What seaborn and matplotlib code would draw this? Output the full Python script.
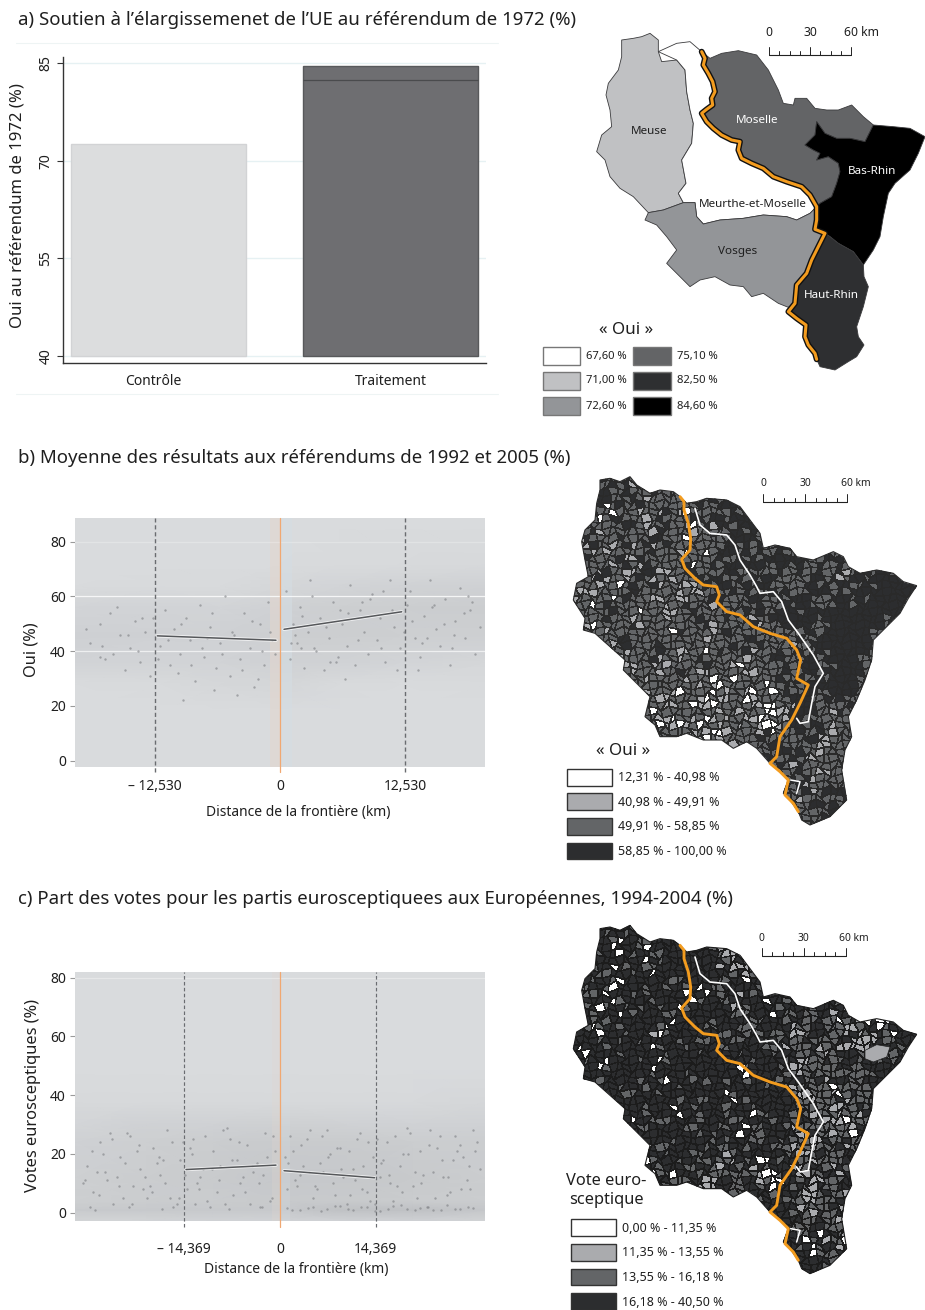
import numpy as np
import pandas as pd
import seaborn as sns
import matplotlib
matplotlib.use("Agg")
import matplotlib.pyplot as plt
from matplotlib.patches import Polygon, Rectangle
from matplotlib.colors import ListedColormap, LinearSegmentedColormap

W, H = 925, 1310
FONT = ["Noto Sans", "DejaVu Sans"]

# ---------- panel a
bar_categories = ["Contrôle", "Traitement"]
bar_values = [72.6, 84.6]
bar_inner_line = 82.5
bar_ticks = [40, 55, 70, 85]
bar_colors = ["#dcddde", "#6d6e71"]

# ---------- panel b
b_cut = 12.53
b_left_x, b_left_y = [-12.3, -0.4], [45.6, 44.0]
b_right_x, b_right_y = [0.4, 12.2], [48.0, 54.4]
b_ticks_y = [0, 20, 40, 60, 80]
b_grid_x = [-20.5, -12, -6, 0, 6, 12, 20.5]
b_grid_y = [-2.2, 18, 28, 36, 46, 56, 64, 72, 88.5]
b_density = [[.0, .0, .0, .0, .0, .0, .0],
             [.0, .0, .0, .0, .0, .0, .0],
             [.0, .02, .08, .1, .03, .01, .02],
             [.16, .16, .16, .2, .18, .14, .08],
             [.22, .2, .2, .26, .28, .26, .25],
             [.14, .16, .14, .2, .25, .28, .3],
             [.01, .03, .03, .08, .14, .18, .2],
             [.0, .0, .0, .01, .02, .03, .05],
             [.0, .0, .0, .0, .0, .0, .0]]
b_pts_x = [-19, -18, -17.5, -17, -16, -15.5, -15, -14.5, -14, -13.5, -13, -12, -11.5, -11, -10.6, -10, -9.4, -9, -8.5,
           -8, -7.6, -7, -6.4, -6, -5.5, -5, -4.6, -4, -3.6, -3, -2.6, -2, -1.6, -1.2, -.8, -.5, .6, 1, 1.3, 1.7, 2, 2.4,
           2.8, 3.2, 3.6, 4, 4.4, 4.9, 5.3, 5.8, 6.2, 6.7, 7, 7.5, 8, 8.4, 8.8, 9.2, 9.7, 10, 10.5, 11, 11.4, 12, 12.7,
           13, 13.5, 14, 14.4, 15, 15.6, 16, 16.5, 17, 17.5, 18, 18.5, 19, 19.5, 20, -18, -16.3, -12.7, -10.2, -7.3,
           -4.3, -2.2, 1.5, 3, 5, 6.5, 8.2, 10.3, 13.8, 15.2, 17.2, 18.8, 14.7, 11.7, 6, 2.1, -6.6, -9.7, -14.2,
           -19.4, -17.8, -16.7, -15.2, -13.8, -12.2, -11.2, -9.9, -8.9, -7.8, -6.8, -5.8, -4.8, -3.8, -2.8, -1.8, -1, 1.1,
           2.2, 3.4, 4.6, 5.6, 6.8, 7.8, 9, 10.1, 11.2, 12.4, 13.2, 14.2, 15.4, 16.4, 17.4, 18.4, 19.2]
b_pts_y = [43, 50, 37, 54, 46, 33, 41, 51, 36, 47, 31, 42, 55, 35, 48, 39, 52, 44, 29, 57, 38, 49, 34, 43, 60, 31, 46, 37,
           54, 41, 27, 50, 35, 58, 44, 39, 62, 37, 50, 43, 56, 34, 47, 60, 40, 52, 33, 45, 58, 38, 50, 42, 64, 35, 55,
           47, 39, 61, 44, 52, 36, 66, 49, 41, 57, 62, 45, 38, 53, 66, 48, 42, 59, 35, 51, 63, 45, 55, 39, 49,
           38, 56, 52, 32, 45, 24, 30, 46, 66, 36, 30, 58, 62, 33, 56, 41, 60, 45, 33, 55, 41, 26, 22, 40,
           48, 42, 39, 46, 52, 37, 44, 50, 35, 41, 54, 39, 47, 33, 51, 40, 47, 43, 53, 41, 49, 36, 54, 44, 59, 41, 55, 47,
           51, 43, 57, 50, 46, 54, 58]

# ---------- panel c
c_cut = 14.369
c_left_x, c_left_y = [-14.1, -0.6], [14.7, 16.2]
c_right_x, c_right_y = [0.6, 14.2], [14.3, 11.9]
c_ticks_y = [0, 20, 40, 60, 80]
c_grid_x = [-30.7, -20, -10, 0, 10, 20, 30.7]
c_grid_y = [-2.7, 1, 4, 12, 24, 30, 38, 50, 82]
c_density = [[.15, .15, .18, .18, .2, .2, .15],
             [.35, .38, .38, .38, .55, .55, .42],
             [.26, .3, .32, .36, .36, .32, .3],
             [.24, .3, .34, .4, .4, .36, .3],
             [.2, .26, .3, .34, .34, .3, .3],
             [.12, .2, .2, .24, .2, .18, .2],
             [.05, .04, .05, .05, .04, .05, .08],
             [.0, .0, .0, .0, .0, .0, .0],
             [.0, .0, .0, .0, .0, .0, .0]]
c_pts_x = [-29, -28, -27, -26, -25, -24, -23, -22, -21, -20, -19, -18, -17, -16, -15, -14, -13, -12, -11, -10, -9, -8, -7,
           -6, -5, -4, -3, -2, -1, 1, 2, 3, 4, 5, 6, 7, 8, 9, 10, 11, 12, 13, 14, 15, 16, 17, 18, 19, 20, 21, 22, 23, 24, 25,
           26, 27, 28, 29, 30, -28.5, -26.5, -24.5, -22.5, -20.5, -18.5, -16.5, -14.5, -12.5, -10.5, -8.5, -6.5, -4.5, -2.5,
           -.7, 1.5, 3.5, 5.5, 7.5, 9.5, 11.5, 13.5, 15.5, 17.5, 19.5, 21.5, 23.5, 25.5, 27.5, 29.5, -29.5, -27.5, -25.5,
           -23.5, -21.5, -19.5, -17.5, -15.5, -13.5, -11.5, -9.5, -7.5, -5.5, -3.5, -1.5, .8, 2.5, 4.5, 6.5, 8.5, 10.5,
           12.5, 14.5, 16.5, 18.5, 20.5, 22.5, 24.5, 26.5, 28.5, 1, 3, 5, 7, 9, 11, 13, 15, 17, 19, 21, 23, 25, 27, 29,
           1.8, 4.2, 6.2, 8.2, 10.2, 12.2, 14.2, 16.2, 18.2, 20.2, 22.2, 24.2, 26.2, 28.2, -27.7, -22.7, -17.7, -12.7, -7.7, -2.7,
           -29.2, -28.2, -27.2, -26.2, -25.2, -24.2, -23.2, -22.2, -21.2, -20.2, -19.2, -18.2, -17.2, -16.2, -15.2, -14.2,
           -13.2, -12.2, -11.2, -10.2, -9.2, -8.2, -7.2, -6.2, -5.2, -4.2, -3.2, -2.2, -1.2, 1.2, 2.2, 3.2, 4.3, 5.2, 6.3,
           7.2, 8.3, 9.2, 10.3, 11.2, 12.3, 13.2, 14.3, 15.2, 16.3, 17.2, 18.3, 19.2, 20.3, 21.2, 22.3, 23.2, 24.3, 25.2,
           26.3, 27.2, 28.3, 29.2]
c_pts_y = [16, 7, 24, 11, 3, 19, 27, 9, 15, 5, 22, 13, 28, 2, 18, 8, 25, 12, 4, 21, 16, 29, 6, 10, 23, 14, 2, 19, 26, 8, 21,
           13, 25, 5, 17, 28, 10, 22, 3, 15, 27, 7, 19, 12, 24, 4, 16, 29, 9, 21, 2, 14, 26, 6, 18, 23, 11, 28, 15,
           2, 20, 12, 26, 8, 17, 5, 24, 10, 2, 28, 18, 3, 13, 21, 26, 16, 8, 20, 12, 25, 4, 18, 9, 27, 13, 22, 7, 19, 24,
           10, 14, 27, 5, 21, 9, 18, 3, 22, 15, 7, 25, 12, 17, 4, 19, 9, 28, 14, 22, 6, 16, 25, 10, 20, 5, 28, 12, 21, 8,
           1.5, .8, 2, 1.2, 2.4, 1, 1.8, .6, 2.2, 1.3, 1.7, .9, 2.5, 1.1, 1.6, .9, 1.6, .7, 2.2, 1.2, 2, .5, 1.4, 2.6, 1,
           1.9, .8, 1.4, 2.1, 1, 2, 1.3, 3, 1.2, 1.8,
           11, 21, 6, 14, 25, 9, 17, 3, 23, 12, 7, 19, 10, 24, 5, 13, 20, 8, 26, 15, 11, 3, 18, 24, 7, 16, 10, 27, 5, 17,
           11, 23, 14, 9, 26, 19, 6, 15, 21, 11, 8, 24, 3, 17, 13, 26, 7, 20, 14, 10, 23, 5, 18, 12, 26, 8, 16, 21]

# ---------- map a: département outlines (map units)
border_a = [(515, 95), (525, 115), (520, 135), (535, 160), (548, 185), (555, 215), (545, 235), (548, 255), (530, 268),
            (515, 280), (530, 305), (550, 325), (575, 345), (605, 360), (630, 365), (625, 390), (635, 415), (665, 430),
            (700, 445), (730, 470), (770, 485), (815, 500), (840, 525), (860, 560), (860, 600), (855, 628), (885, 640),
            (865, 680), (845, 720), (830, 760), (800, 795), (795, 850), (775, 875), (800, 895), (828, 915), (825, 950),
            (835, 975), (855, 1000), (860, 1018)]
meuse = [(275, 60), (310, 55), (335, 50), (360, 40), (385, 60), (385, 95), (395, 125), (440, 120), (465, 150), (470, 215),
         (480, 270), (490, 310), (485, 370), (455, 420), (468, 490), (445, 520), (460, 548), (400, 570), (355, 578),
         (310, 530), (270, 505), (240, 470), (225, 420), (200, 395), (215, 345), (245, 320), (240, 270), (228, 225),
         (235, 190), (265, 150), (275, 110)]
meurthe_west = [(460, 548), (495, 548), (500, 590), (520, 612), (570, 600), (640, 595), (700, 585), (770, 590), (800, 600),
                (840, 580)]
vosges_south = [(775, 862), (745, 850), (700, 820), (665, 830), (640, 800), (600, 795), (555, 770), (510, 780), (480, 800),
                (450, 770), (410, 730), (440, 690), (410, 650), (380, 615), (345, 600)]
moselle_north = [(540, 115), (575, 100), (625, 92), (680, 105), (715, 150), (745, 210), (760, 250), (790, 255), (795, 235),
                 (830, 235), (855, 265), (890, 270), (925, 270), (965, 255), (1000, 290), (1030, 315)]
bas_rhin_west = [(1005, 365), (960, 355), (920, 355), (885, 340), (860, 305), (855, 345), (825, 375), (850, 390), (870, 400),
                 (860, 420), (895, 410), (925, 430), (930, 455), (920, 490), (905, 530), (870, 550)]
bas_rhin_east = [(1090, 320), (1140, 325), (1185, 350), (1165, 400), (1140, 450), (1095, 490), (1075, 520), (1060, 590),
                 (1050, 650), (1030, 690), (1000, 735)]
rhin_split = [(970, 695), (925, 670), (900, 650)]
haut_rhin_east = [(1002, 770), (1015, 800), (1000, 860), (980, 920), (985, 950), (1002, 975), (980, 1010), (955, 1025),
                  (915, 1050), (870, 1040)]
map_a_labels = ["Meuse", "Moselle", "Bas-Rhin", "Meurthe-et-Moselle", "Vosges", "Haut-Rhin"]
legend_a_labels = ["67,60 %", "71,00 %", "72,60 %", "75,10 %", "82,50 %", "84,60 %"]
legend_a_colors = ["#ffffff", "#c0c1c3", "#939598", "#636466", "#2e2f31", "#000000"]

# ---------- maps b and c: shared outline, estimated commune classes
outline = [(180, 30), (210, 25), (240, 35), (270, 20), (290, 45), (330, 70), (360, 60), (400, 65), (420, 80), (440, 100),
           (470, 95), (500, 85), (560, 90), (600, 110), (630, 150), (660, 190), (670, 235), (705, 225), (750, 235), (770, 260),
           (820, 270), (880, 245), (910, 260), (925, 290), (960, 310), (1010, 300), (1060, 310), (1090, 335), (1130, 347),
           (1105, 385), (1080, 430), (1030, 480), (1000, 510), (995, 570), (975, 630), (950, 690), (925, 740), (935, 800),
           (915, 840), (905, 900), (920, 990), (870, 1040), (810, 1065), (785, 1050), (775, 1025), (750, 990), (730, 970),
           (745, 930), (720, 905), (690, 880), (650, 835), (620, 815), (580, 835), (545, 810), (490, 810), (440, 790),
           (410, 800), (360, 800), (345, 765), (315, 740), (325, 700), (330, 680), (290, 640), (250, 600), (255, 570),
           (210, 530), (165, 490), (130, 480), (135, 445), (100, 390), (110, 340), (145, 320), (135, 270), (125, 215),
           (135, 180), (165, 150), (170, 100), (180, 60)]
border_bc = [(420, 80), (432, 95), (432, 120), (445, 160), (452, 205), (450, 240), (425, 268), (435, 295), (465, 325),
             (490, 345), (530, 350), (538, 375), (530, 395), (560, 425), (600, 435), (640, 470), (690, 490), (740, 505),
             (770, 540), (782, 570), (770, 625), (805, 645), (780, 700), (755, 750), (720, 800), (710, 860), (690, 880),
             (720, 905), (745, 930), (735, 975), (760, 1000), (775, 1025)]
white_line = [(465, 115), (480, 165), (510, 190), (560, 195), (585, 225), (600, 270), (630, 315), (650, 350), (660, 370),
              (700, 365), (725, 395), (745, 450), (775, 490), (820, 555), (850, 610), (825, 650), (815, 700), (805, 755),
              (780, 760), (770, 745)]
white_line2 = [(752, 930), (780, 935), (770, 970)]
lake_c = [(975, 395), (1010, 378), (1050, 385), (1040, 415), (1000, 430), (975, 420)]

classes_b = [
 "MMMMDMDMMDMMMMMMMMMMMMMMMMMMMMMMMMMMMMMMMMMM",
 "MMMDMMDLMDMMMMMMMMDDMMMMMMMMMMMMMMMMMMMMMMMM",
 "MMMMDMLMDMMDMLMMMMDMDDDMMMMMMMMMMMMMMMMMMMMM",
 "MMMDMDMMDMLMMMMMMDDDDMDDDMDMMMMMMMMMMMMMMMMM",
 "MMMMWDMMLMMDMLMDMMMDDDDMDDDDDMMMMMMMMMMMMMMM",
 "MMDMMMDMMMLDMMWMDMDMMDDMDDMDDDMMMMMMMMMMMMMM",
 "MMMLMMMDMLMMMMLMMLMDDMDMMDMDMDMMMMMMMMMMMMMM",
 "MMDMMMLMWMDMMMMMDMMMDMDMMDMDMDMDMMDMMMMMMMMM",
 "MLMMLMDMMLMDMMMWMLMDMDMDMMDMDMDMMMMDMMMMMMMM",
 "LMDMMMMLMDMMMLMMWMDDMDMDMDMDMDMMDMDMMMMMMMMM",
 "MMLMLMDMLMMMMMWMMMMDMDMDMDDMDMDMMDMDMMDMMMMM",
 "MMMLMMLMMDMLMMDMMDMDDMDMMDMMDMDMMDMMDMDMMMDM",
 "MLMMDMMLMDLMMLMMDMMDMDMDMDMMDMDDMMLDMMDDDDMM",
 "MMMLMLMMMDMMMLLMDMDMMDMDMDMDMDMDMDMMDDDDDDDM",
 "MLMMMWMDMMLMMLLMMMMDMDMMDMDMMDMDMDDMDMDDDDDD",
 "LMLMMMMDMMMLMMMLMMDMMMMDMMDMDMDMMDMDDDDDDDDD",
 "MMWMDMMMWMMLMMDMMLMMMDMDMMDMMDMDMDDDDDDDDDDM",
 "MMMLMMDMMMMLLMMMMMLMMDMMMDMDMDDMDDDDDDDDDMMM",
 "MLMMMDMMLMMMLMMMDMMMDMMLMMDMDMDMDDDDDDDDMMMM",
 "MMWMMMMDMMMMMDMMMLMMMMDMMMMDMDMDDDDDDDMMMMMM",
 "MMMMLMDMMMMMWMMMMLMDMMMDMMMMMDMDDDDDDMMMMMMM",
 "MMMMMMLMMMDMMLMMWMDMMDMMMMMLDMDMDDDDDMMMMMMM",
 "MMMMMMDMMMDMMMLMLMMMMMLMMDMMDMDMDDDDDMMMMMMM",
 "MMMMMMLMMLMLMMMMDMMLMMWMMMDMMDDMDDDDMMMMMMMM",
 "MMMMMMMLMMMMMDMMLMMMWLMMMMDMMDMDMDDDMMMMMMMM",
 "MMMMMMLLMMLMMMMLMMWMMMLMMMDMMDMDDDDDMMMMMMMM",
 "MMMMMMMMLMMMMWMLMLMMMLMMWMDMMDDMDDDMMMMMMMMM",
 "MMMMMMMMMLMMLMMMMWMLMMWLMMLMDDMDDMDMMMMMMMMM",
 "MMMMMMMMMMMLMMWMLMMMLMMLWMMMDDDMDMDMMMMMMMMM",
 "MMMMMMMMMWMMLMMLMWLMMMLMWMLLDDMMMDMMMMMMMMMM",
 "MMMMMMMMMMMLMWMMMMLMLMMLWLMDDDMMLMMMMMMMMMMM",
 "MMMMMMMMMMWMLMLWLMWMLMMLWLMDDMDMLMMMMMMMMMMM",
 "MMMMMMMMMMMWMWMMLWMLMLMMDMMMDMDMLMMMMMMMMMMM",
 "MMMMMMMMMMMMMWWLLMMLMMDMDMMDMMDLMMMMMMMMMMMM",
 "MMMMMMMMMMMMMMMMMMMMMLMMMDDMDMLMMMMMMMMMMMMM",
 "MMMMMMMMMMMMMMMMMMMLLWMDMDMMDMLMMMMMMMMMMMMM",
 "MMMMMMMMMMMMMMMMMMMMMMMDMDMLDMMLMMMMMMMMMMMM",
 "MMMMMMMMMMMMMMMMMMMMMMMMMMDMDMLDMMMMMMMMMMMM",
 "MMMMMMMMMMMMMMMMMMMMMMMMMMMMDMDMLMDMMMMMMMMM",
 "MMMMMMMMMMMMMMMMMMMMMMMMMMMMMLMDMDMDMMMMMMMM",
 "MMMMMMMMMMMMMMMMMMMMMMMMMMMMMDMMDMDDMMMMMMMM",
 "MMMMMMMMMMMMMMMMMMMMMMMMMMMMMMDMDMDMMMMMMMMM",
 "MMMMMMMMMMMMMMMMMMMMMMMMMMMMMMMMDMDMMMMMMMMM",
 "MMMMMMMMMMMMMMMMMMMMMMMMMMMMMMMMDDMMMMMMMMMM",
]
classes_c = [
 "DDDDDDMDDMDDDDDDDDDDDDDDDDDDDDDDDDDDDDDDDDDD",
 "DDDDMDDDMDDDDDDDDDDMDDDDDDDDDDDDDDDDDDDDDDDD",
 "DDDDDWMDDMDDDMDDDDWLLMLDDDDDDDDDDDDDDDDDDDDD",
 "DDDMDDDMDMWDMDDDDDMLLLLLLDDDDDDDDDDDDDDDDDDD",
 "DDDDDWDMDDMDDDDDDDDLLMLLMWLDDDDDDDDDDDDDDDDD",
 "DDDMDDDDDWMDDDDDDDDMDLMMLMLDDDDDDDDDDDDDDDDD",
 "DDDDMDDMDDDDDMDDDDMDDWMDMLDMDDDDDDDDDDDDDDDD",
 "DDMDDWDDMDDDMDDDDDMMDMDDMWMDDMDDDDDDDDDDDDDD",
 "DMDDDMDDDDMDDDDMWDMDDDMDDMDDMDDMDDDDDDDDDDDD",
 "DDMDWDDMDMDDDDWDDDMDLDMDDDMDMDMDDMDDDDDDDDDD",
 "DDDDDMDDDDDMDDDMDDDMDMDDWDMDDMDDDDMLDMDDDDDD",
 "DDMDDWDMDDDDMDDDDDDDMDDMDDMMDMDMLWDDWMWDDDDD",
 "DDMDMDDDMDDMWDDDDMDDDDMDDDMDMMDDMDMLWDMWDDMD",
 "DDMWDDMDDLDMDDDDDDMDDMDMMDDMLDMDDMDLMDDWMDMD",
 "DDDMDDDDMDWDDMDDMDDMDDDDDMDLMMDMMDLLLLDMDDDD",
 "DWDDDMDDDDDMDDDMDDDDMDDDMMDMMDMLMDDLLLDMDMDD",
 "DMDDDMDDMDDMDDDMDDDDMDDDDDMDLMMDMMDMDDMMDDDD",
 "DDDMWDDDDDWDDMDDMDWDDDMDDDDDMLMDMLDMWDMDDDDD",
 "DDDDDMDDDMDDDDDDDMDDDWDDDDMDLDMMDMMDMMDDDDDD",
 "DDDMDDDDMDDWDDMDMDDDDMDDDDDMDMMLMDMMDMDDDDDD",
 "DDDDDDMDDDMDDDDDDDDMDDDDDMDDLMDMDWDMMDDDDDDD",
 "DDDDDDDMDDMDDMDDMDDWDMDDDDDMMLMMLDMMMDWDDDDD",
 "DDDDDDMDDDDMDDDMDDMDDDDMDDMDDMMLMMLMDMDDDDDD",
 "DDDDDDDMDDMDDWDDDDDDMDDMDDDWDLMMLLMMDMDDDDDD",
 "DDDDDDDDDMDMDDDMDDDMDDWDMDDMDMMLMLMLMDLDDDDD",
 "DDDDDDDWDDMDDDDMDDDDMDDMDDDMLDMMLMWMDMDDDDDD",
 "DDDDDDDDMDDDDDDMDMDDWDMMDDDDMLMDLMMDLDDDDDDD",
 "DDDDDDDDDDDDMDDDDMDMDDMDDMDMLMLDMWDMLDDDDDDD",
 "DDDDDDDDDDWMDDMDDMDMMDDDDDMDLMMMLMDLMDDDDDDD",
 "DDDDDDDDDMDDDMDMMDMLDMDWDDDDMLDMMMDLDDDDDDDD",
 "DDDDDDDDDWDMDDDMDDMMDMDLWMDDLMMDMLDMDDDDDDDD",
 "DDDDDDDDDDMDWMDMLMDMMDMLWMDDMLMMDMDLDDDDDDDD",
 "DDDDDDDDDDDWMDMDMLMDMMDMMWDDMDLMMLDMDDDDDDDD",
 "DDDDDDDDDDDDDDMMLMLMDMMDMDDMMLMDMMLDDDDDDDDD",
 "DDDDDDDDDDDDDDDDDDDDMLDMDDMDMLMMMDLDDDDDDDDD",
 "DDDDDDDDDDDDDDDDDDDDLLDMDDDMDLMMMDLDDDDDDDDD",
 "DDDDDDDDDDDDDDDDDDDDDDDDMDDMDMDMMLDDDDDDDDDD",
 "DDDDDDDDDDDDDDDDDDDDDDDDDDDDMMDWMDMLDDDDDDDD",
 "DDDDDDDDDDDDDDDDDDDDDDDDDDDDMDMDLMLMDDDDDDDD",
 "DDDDDDDDDDDDDDDDDDDDDDDDDDDDDMWLDMLMDDDDDDDD",
 "DDDDDDDDDDDDDDDDDDDDDDDDDDDDDWDMMDWDDDDDDDDD",
 "DDDDDDDDDDDDDDDDDDDDDDDDDDDDDDMDMDMDDDDDDDDD",
 "DDDDDDDDDDDDDDDDDDDDDDDDDDDDDDDDMDMDDDDDDDDD",
 "DDDDDDDDDDDDDDDDDDDDDDDDDDDDDDDDDDDDDDDDDDDD",
]
legend_b_labels = ["12,31 % - 40,98 %", "40,98 % - 49,91 %", "49,91 % - 58,85 %", "58,85 % - 100,00 %"]
legend_c_labels = ["0,00 % - 11,35 %", "11,35 % - 13,55 %", "13,55 % - 16,18 %", "16,18 % - 40,50 %"]
class_colors = ["#ffffff", "#aaabae", "#636567", "#2c2d2f"]

titles = ["a) Soutien à l’élargissemenet de l’UE au référendum de 1972 (%)",
          "b) Moyenne des résultats aux référendums de 1992 et 2005 (%)",
          "c) Part des votes pour les partis eurosceptiquees aux Européennes, 1994-2004 (%)"]

# ---------- drawing
sns.set_theme(style="white")
plt.rcParams["font.family"] = FONT
plt.rcParams["axes.unicode_minus"] = False
TXT = "#1f1f1f"
fig = plt.figure(figsize=(W / 100, H / 100), dpi=100)


def px_axes(x0, y0, x1, y1, **kw):
    return fig.add_axes([x0 / W, 1 - y1 / H, (x1 - x0) / W, (y1 - y0) / H], **kw)


for t, y in zip(titles, [20, 458, 899]):
    fig.text(18 / W, 1 - y / H, t, fontsize=13.4, color=TXT, va="center", ha="left")

# panel a
ax = px_axes(63.3, 56.7, 486, 363.3)
df = pd.DataFrame({"groupe": bar_categories, "oui": bar_values})
sns.barplot(data=df, x="groupe", y="oui", hue="groupe", palette=bar_colors, width=0.753, ax=ax, legend=False,
            dodge=False, zorder=3)
edges = ["#d2d3d5", "#58595b"]
for p, v, e in zip(ax.patches, bar_values, edges):
    p.set_y(bar_ticks[0])
    p.set_height(v - bar_ticks[0])
    p.set_edgecolor(e)
    p.set_linewidth(1)
ax.set_xlim(-0.409, 1.41)
ax.set_ylim(38.83, 86.02)
ax.set_yticks(bar_ticks)
ax.set_yticklabels(bar_ticks, rotation=90, va="center", fontsize=10, color=TXT)
ax.set_xticks([-0.022, 1])
ax.set_xticklabels(bar_categories, fontsize=10, color=TXT)
ax.tick_params(axis="y", length=4, width=0.8, color="#333333", left=True, pad=3)
ax.tick_params(axis="x", length=0, pad=8)
ax.grid(axis="y", color="#e6f1f3", lw=1)
ax.set_axisbelow(True)
sns.despine(ax=ax)
for s in ["left", "bottom"]:
    ax.spines[s].set_color("#333333")
    ax.spines[s].set_linewidth(1)
ax.plot([0.624, 1.376], [bar_inner_line] * 2, color="#4a4b4d", lw=0.9, zorder=4, solid_capstyle="butt")
ax.set_xlabel("")
ax.set_ylabel("Oui au référendum de 1972 (%)", fontsize=12, color=TXT, va="center")
ax.yaxis.set_label_coords(-46 / 422.7, 0.516)
for y in [43, 394]:
    fig.add_artist(plt.Line2D([16 / W, 498 / W], [1 - y / H] * 2, color="#eef4f4", lw=0.8))


def rd_panel(rect, xlim, ylim, cut, left, right, yticks, grid_x, grid_y, dens, px, py, cut_bottom, tick_labels, xlabel,
             xlabel_xy, ylabel, ylabel_xy, white_grid, tick_pad, band_alpha, dash_lw):
    a = px_axes(*rect)
    a.set_facecolor("#d9dbdd")
    cmap = LinearSegmentedColormap.from_list("cloud", ["#d9dbdd", "#a9abaf"])
    a.pcolormesh(grid_x, grid_y, np.array(dens), cmap=cmap, vmin=0, vmax=1, shading="gouraud", zorder=1)
    a.axvspan(-0.08 * cut, 0, color="#e2d6ce", lw=0, zorder=1.2, alpha=band_alpha)
    a.axvspan(0, 0.1 * cut, color="#d4dde3", lw=0, zorder=1.2, alpha=band_alpha)
    for v, al in white_grid:
        a.axhline(v, color="white", lw=0.9, alpha=al, zorder=1.5)
    sns.scatterplot(x=px, y=py, s=3, color="#7d7f83", alpha=.6, linewidth=0, ax=a, zorder=2)
    for lx, ly in (left, right):
        sns.lineplot(x=lx, y=ly, color="white", lw=2.4, alpha=.7, ax=a, errorbar=None, zorder=3)
        sns.lineplot(x=lx, y=ly, color="#55575a", lw=1.1, ax=a, errorbar=None, zorder=4)
    a.set_xlim(*xlim)
    a.set_ylim(*ylim)
    for xc in (-cut, cut):
        a.plot([xc, xc], [cut_bottom, ylim[1]], color="#6a6c70", lw=dash_lw, ls=(0, (3, 2)), clip_on=False, zorder=5)
    a.plot([0, 0], [cut_bottom, ylim[1]], color="#f0a872", lw=0.9, clip_on=False, zorder=5)
    a.set_xticks([-cut, 0, cut])
    a.set_xticklabels(tick_labels, fontsize=10, color=TXT)
    a.set_yticks(yticks)
    a.set_yticklabels(yticks, fontsize=10, color=TXT)
    a.tick_params(axis="y", left=True, length=3.5, width=0.8, color="#9a9a9a", pad=3)
    a.tick_params(axis="x", length=0, pad=tick_pad)
    for s in a.spines.values():
        s.set_visible(False)
    w, h = rect[2] - rect[0], rect[3] - rect[1]
    a.set_xlabel(xlabel, fontsize=10, color=TXT)
    a.xaxis.set_label_coords((xlabel_xy[0] - rect[0]) / w, 1 - (xlabel_xy[1] - rect[1]) / h)
    a.xaxis.label.set_va("center")
    a.set_ylabel(ylabel, fontsize=11.8, color=TXT)
    a.yaxis.set_label_coords((ylabel_xy[0] - rect[0]) / w, 1 - (ylabel_xy[1] - rect[1]) / h)
    a.yaxis.label.set_va("center")
    return a


rd_panel((75, 518.3, 485, 766.7), (-20.55, 20.55), (-2.2, 88.55), b_cut, (b_left_x, b_left_y), (b_right_x, b_right_y),
         b_ticks_y, b_grid_x, b_grid_y, b_density, b_pts_x, b_pts_y, -4, ["– 12,530", "0", "12,530"],
         "Distance de la frontière (km)", (298, 812), "Oui (%)", (32, 650),
         [(60, .8), (40, .65), (80, .25)], 9, .6, 1.0)
rd_panel((75, 971.7, 485, 1220.7), (-30.75, 30.75), (-2.72, 82.04), c_cut, (c_left_x, c_left_y), (c_right_x, c_right_y),
         c_ticks_y, c_grid_x, c_grid_y, c_density, c_pts_x, c_pts_y, -4.8, ["– 14,369", "0", "14,369"],
         "Distance de la frontière (km)", (296, 1270), "Votes eurosceptiques (%)", (33, 1095),
         [(80, .35)], 15, .25, 0.85)


def scale_bar(a, x0, x1, y, ytxt, fs=7.4):
    step = (x1 - x0) / 8
    a.plot([x0, x1], [y, y], color="#222222", lw=0.8, zorder=10)
    for i in range(9):
        tall = i in (0, 4, 8)
        a.plot([x0 + i * step] * 2, [y, y - (24 if tall else 11)], color="#222222", lw=0.7, zorder=10)
    a.text(x0, ytxt, "0", ha="center", va="center", fontsize=fs, color=TXT)
    a.text((x0 + x1) / 2, ytxt, "30", ha="center", va="center", fontsize=fs, color=TXT)
    a.text(x1 - 20, ytxt, "60 km", ha="left", va="center", fontsize=fs, color=TXT)


def map_axes(x0, y0, w, h, xr, yr):
    a = px_axes(x0, y0, x0 + w, y0 + h)
    a.set_xlim(*xr)
    a.set_ylim(*yr)
    a.axis("off")
    a.patch.set_alpha(0)
    return a


# map a
am = map_axes(530, 20, 395, 400, (0, 1185), (1200, 0))
i_sm = border_a.index((860, 560))
i_kink = border_a.index((885, 640))
meurthe = [(385, 95), (440, 70), (480, 65)] + border_a[:i_sm + 1] + meurthe_west[::-1] + meuse[15:6:-1]
vosges = [(355, 578), (400, 570)] + meurthe_west + border_a[i_sm:border_a.index((795, 850)) + 1] + vosges_south
moselle = [(515, 95)] + moselle_north + bas_rhin_west + border_a[:i_sm + 1][::-1]
bas_rhin = [(1030, 315)] + bas_rhin_east + rhin_split + border_a[i_sm:i_kink + 1][::-1] + bas_rhin_west[::-1]
haut_rhin = [(885, 640), (900, 650)] + rhin_split[::-1][1:] + [(1000, 735)] + haut_rhin_east + border_a[i_kink:][::-1]
for poly, col in [(meuse, legend_a_colors[1]), (meurthe, legend_a_colors[0]), (vosges, legend_a_colors[2]),
                  (moselle, legend_a_colors[3]), (bas_rhin, legend_a_colors[5]), (haut_rhin, legend_a_colors[4])]:
    am.add_patch(Polygon(poly, closed=True, facecolor=col, edgecolor="#3a3a3c", lw=0.6, joinstyle="round"))
bx, by = zip(*border_a)
am.plot(bx, by, color="#111111", lw=4.2, solid_capstyle="round", solid_joinstyle="round", zorder=5)
am.plot(bx, by, color="#f39c1f", lw=2.2, solid_capstyle="round", solid_joinstyle="round", zorder=6)
pos_a = [(358, 335, TXT), (682, 302, "white"), (1025, 455, "white"), (667, 553, TXT), (622, 695, TXT), (903, 828, "white")]
for lab, (x, y, c) in zip(map_a_labels, pos_a):
    am.text(x, y, lab, ha="center", va="center", fontsize=8.4, color=c, zorder=8)
scale_bar(am, 717, 963, 105, 38, 8.8)
am.text(288, 930, "« Oui »", ha="center", va="center", fontsize=12.2, color=TXT)
for i, (lab, col) in enumerate(zip(legend_a_labels, legend_a_colors)):
    bx0, tx = (38, 167) if i < 3 else (310, 442)
    yy = 980 + 75 * (i % 3)
    am.add_patch(Rectangle((bx0, yy), 112, 55, facecolor=col, edgecolor="#777777", lw=1))
    am.text(tx, yy + 28, lab, va="center", ha="left", fontsize=8.1, color=TXT)

CELL = 20
FINE = 53
CMAP = ListedColormap(class_colors)


def commune_map(a, rows, edge):
    ints = np.array([["WLMD".index(ch) for ch in r.ljust(44, "M")[:44]] for r in rows])
    # each estimated class block is resampled to commune-sized cells, staggered between neighbours
    jj, ii = np.meshgrid(np.arange(FINE), np.arange(FINE), indexing="ij")
    jf = np.clip(jj * 44 // FINE + (ii % 2), 0, 43)
    if_ = np.clip(ii * 44 // FINE + (jj % 3 == 0), 0, 43)
    fine = ints[jf, if_]
    jv, iv = np.meshgrid(np.arange(FINE + 1), np.arange(FINE + 1), indexing="ij")
    xx = 90 + CELL * iv + CELL * 0.3 * np.sin(jv * 1.7 + iv * 2.3) + CELL * 0.16 * np.sin(iv * 0.9 - jv * 3.1)
    yy = 15 + CELL * jv + CELL * 0.3 * np.cos(iv * 1.9 - jv * 1.1) + CELL * 0.16 * np.sin(iv * 3.3 + jv * 0.7)
    m = a.pcolormesh(xx, yy, fine, cmap=CMAP, vmin=-.5, vmax=3.5, edgecolors=edge, linewidth=0.35, shading="flat",
                     zorder=1)
    clip = Polygon(outline, closed=True, transform=a.transData)
    m.set_clip_path(clip)
    a.add_patch(Polygon(outline, closed=True, fill=False, edgecolor=edge, lw=0.8, zorder=2))
    wx, wy = zip(*white_line)
    a.plot(wx, wy, color="white", lw=1.2, zorder=3)
    wx, wy = zip(*white_line2)
    a.plot(wx, wy, color="white", lw=1.1, zorder=3)
    ox, oy = zip(*border_bc)
    a.plot(ox, oy, color="#f39c1f", lw=2.1, solid_capstyle="round", solid_joinstyle="round", zorder=4)


def class_legend(a, labels, x0, x1, tx, ys, fs=9):
    for lab, col, y in zip(labels, class_colors, ys):
        a.add_patch(Rectangle((x0, y), x1 - x0, 50, facecolor=col, edgecolor="#333333", lw=1))
        a.text(tx, y + 26, lab, va="center", ha="left", fontsize=fs, color=TXT)


# map b
bm = map_axes(540, 470, 385, 400, (0, 1155), (1200, 0))
commune_map(bm, classes_b, "#2a2a2a")
scale_bar(bm, 670, 922, 95, 40)
bm.text(250, 843, "« Oui »", ha="center", va="center", fontsize=12.2, color=TXT)
class_legend(bm, legend_b_labels, 82, 217, 235, [897, 970, 1045, 1118])

# map c (same outline, slightly shifted page position)
cm = map_axes(540, 920, 385, 390, (0, 1155), (1174, 4))
commune_map(cm, classes_c, "#1c1c1c")
cm.add_patch(Polygon(lake_c, closed=True, facecolor=class_colors[1], edgecolor="#222222", lw=0.5, zorder=2.5))
scale_bar(cm, 665, 918, 111, 59)
cm.text(78, 787, "Vote euro-", ha="left", va="center", fontsize=11.8, color=TXT)
cm.text(88, 844, "sceptique", ha="left", va="center", fontsize=11.8, color=TXT)
class_legend(cm, legend_c_labels, 92, 227, 247, [902, 976, 1050, 1124])

fig.savefig("out.png", dpi=100)
